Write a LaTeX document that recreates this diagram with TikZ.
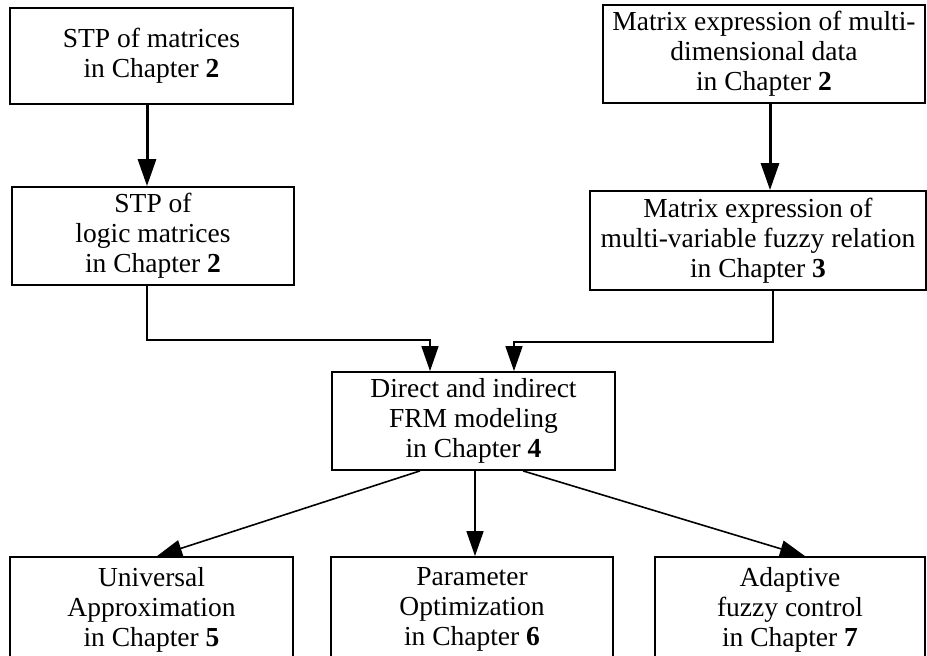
\documentclass[tikz,border=0pt]{standalone}
\usepackage{fontspec}
\setmainfont{Liberation Serif}
\usetikzlibrary{arrows.meta}
\tikzset{
  box/.style={draw, line width=1.8pt, align=center, inner sep=0pt,
    font=\fontsize{27.5}{30}\selectfont},
  thickarrow/.style={line width=3pt, -{Triangle[length=27pt,width=18pt]}},
  thinarrow/.style={line width=1.6pt, -{Triangle[length=25pt,width=17pt]}},
}
\begin{document}
\begin{tikzpicture}[x=1pt,y=-1pt]
\useasboundingbox (0,0) rectangle (927,656);
\node[box, minimum width=283pt, minimum height=96pt] (A) at (151.5,56) {STP of matrices\\in Chapter \textbf{2}};
\node[box, minimum width=282pt, minimum height=98pt] (B) at (153,236) {STP of\\logic matrices\\in Chapter \textbf{2}};
\node[box, minimum width=322pt, minimum height=98pt] (C) at (764,54) {Matrix expression of multi-\\dimensional data\\in Chapter \textbf{2}};
\node[box, minimum width=336pt, minimum height=99pt] (D) at (758,240.5) {Matrix expression of\\multi-variable fuzzy relation\\in Chapter \textbf{3}};
\node[box, minimum width=283pt, minimum height=98pt] (E) at (473.5,421) {Direct and indirect\\FRM modeling\\in Chapter \textbf{4}};
\node[box, minimum width=283pt, minimum height=105pt] (F) at (151.5,609.5) {Universal\\Approximation\\in Chapter \textbf{5}};
\node[box, minimum width=282pt, minimum height=105pt] (G) at (472,609.5) {Parameter\\Optimization\\in Chapter \textbf{6}};
\node[box, minimum width=270pt, minimum height=105pt] (H) at (790,609.5) {Adaptive\\fuzzy control\\in Chapter \textbf{7}};

\draw[thickarrow] ([xshift=-4.5pt]A.south) -- ([xshift=-4.5pt]A.south |- B.north);
\draw[thickarrow] ([xshift=6pt]C.south) -- ([xshift=6pt]C.south |- D.north);

\coordinate (bl) at (147,340);
\coordinate (br) at (773,342);
\draw[thinarrow] ([xshift=-6pt]B.south) -- (bl) -| ([xshift=-43.5pt]E.north);
\draw[thinarrow] ([xshift=15pt]D.south) -- (br) -| ([xshift=40.5pt]E.north);

\draw[thinarrow] ([xshift=-53.5pt]E.south) -- ([xshift=5.5pt]F.north);
\draw[thinarrow] ([xshift=1.5pt]E.south) -- ([xshift=3pt]G.north);
\draw[thinarrow] ([xshift=49.5pt]E.south) -- ([xshift=15pt]H.north);
\end{tikzpicture}
\end{document}
